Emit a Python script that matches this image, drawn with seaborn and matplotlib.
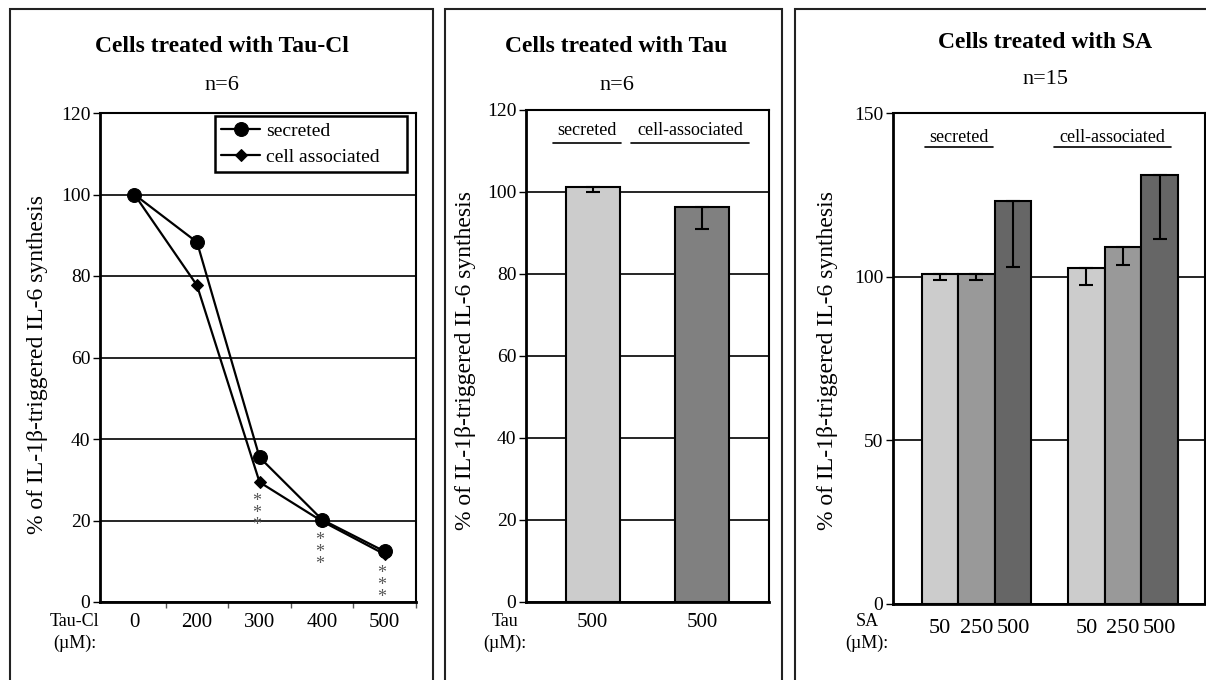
import numpy as np
import pandas as pd
import matplotlib
matplotlib.use('Agg')
import matplotlib.pyplot as plt
import matplotlib.patches as mpatches
import seaborn as sns

# panel 1: Tau-Cl dose response
taucl_doses = ['0', '200', '300', '400', '500']
taucl_secreted = [100.0, 88.3, 35.5, 20.2, 12.4]
taucl_cell = [100.0, 77.7, 29.4, 19.8, 11.7]
taucl_sig = ['', '', '***', '***', '***']

# panel 2: Tau
tau_groups = ['secreted', 'cell-associated']
tau_doses = ['500', '500']
tau_values = [101.1, 96.3]
tau_err_low = [1.1, 5.4]

# panel 3: SA
sa_groups = ['secreted', 'cell-associated']
sa_doses = ['50', '250', '500']
sa_secreted = [100.7, 100.7, 123.0]
sa_secreted_err = [1.6, 1.6, 20.0]
sa_cell = [102.8, 109.0, 131.1]
sa_cell_err = [5.4, 5.5, 19.6]

ylabel = '% of IL-1β-triggered IL-6 synthesis'

sns.set_theme(style='white')
plt.rcParams['font.family'] = ['Liberation Serif', 'DejaVu Serif']
plt.rcParams['axes.edgecolor'] = 'black'
plt.rcParams['text.color'] = 'black'
plt.rcParams['xtick.color'] = 'black'
plt.rcParams['ytick.color'] = 'black'

W, H = 1206, 680
fig = plt.figure(figsize=(W / 100, H / 100), dpi=100)


def box(left, top, right, bottom):
    return [left / W, 1 - bottom / H, (right - left) / W, (bottom - top) / H]


def ftext(x, y, s, **kw):
    fig.text(x / W, 1 - y / H, s, ha='center', va='center', **kw)


# panel frames
for l, r in [(10, 433), (445, 782), (795, 1212)]:
    fig.patches.append(mpatches.Rectangle((l / W, -0.02), (r - l) / W, 1 - 9 / H + 0.02,
                                          transform=fig.transFigure, fill=False,
                                          edgecolor='#222222', linewidth=1.5))


def style_axes(ax, yticks):
    ax.set_yticks(yticks)
    ax.yaxis.grid(True, color='black', linewidth=1.2)
    ax.xaxis.grid(False)
    ax.set_axisbelow(True)
    for s in ax.spines.values():
        s.set_visible(True)
        s.set_linewidth(1.5)
        s.set_color('black')
    ax.spines['left'].set_linewidth(2)
    ax.spines['bottom'].set_linewidth(2)
    ax.tick_params(axis='y', left=True, length=5, width=1, labelsize=14, pad=2)
    ax.tick_params(axis='x', labelsize=15)
    ax.set_xlabel('')
    ax.set_ylabel('')


# ---- panel 1
ax1 = fig.add_axes(box(100, 113, 416, 602))
pos = np.arange(len(taucl_doses))
sns.lineplot(x=pos, y=taucl_secreted, ax=ax1, color='black', linewidth=1.6,
             marker='o', markersize=10, markeredgecolor='black', label='secreted')
sns.lineplot(x=pos, y=taucl_cell, ax=ax1, color='black', linewidth=1.6,
             marker='D', markersize=6.5, markeredgecolor='black', label='cell associated')
ax1.set_xlim(-0.55, 4.5)
ax1.set_ylim(0, 120)
style_axes(ax1, [0, 20, 40, 60, 80, 100, 120])
ax1.set_xticks(pos)
ax1.set_xticklabels(taucl_doses)
ax1.set_xticks(pos + 0.5, minor=True)
ax1.tick_params(axis='x', which='major', length=0, pad=8)
ax1.tick_params(axis='x', which='minor', bottom=True, length=4, width=1, color='#555555')
for i, s in enumerate(taucl_sig):
    if s:
        ax1.annotate('\n'.join(s), xy=(pos[i], taucl_cell[i]), xytext=(-2, -8),
                     textcoords='offset points', ha='center', va='top',
                     fontsize=13, color='#555555', linespacing=0.6)
leg = ax1.legend(loc='upper left', bbox_to_anchor=(0.365, 0.993, 0.607, 0.0),
                 mode='expand', borderaxespad=0,
                 fontsize=14, frameon=True, fancybox=False, framealpha=1,
                 edgecolor='black', handlelength=2.0, handletextpad=0.3,
                 labelspacing=0.45, borderpad=0.3)
leg.get_frame().set_linewidth(1.8)
# stretch the frame back to the left so the entries sit indented like the original
frame = leg.get_frame()
ftext(222, 47, 'Cells treated with Tau-Cl', fontsize=17, fontweight='bold')
ftext(222, 85, 'n=6', fontsize=16)
ftext(38, 365, ylabel, fontsize=17, rotation=90)
ftext(75, 622, 'Tau-Cl', fontsize=13)
ftext(75, 643, '(µM):', fontsize=13)

# ---- panel 2
ax2 = fig.add_axes(box(526, 110, 769, 602))
tau_df = pd.DataFrame({'group': tau_groups, 'value': tau_values})
sns.barplot(data=tau_df, x='group', y='value', hue='group', palette=['#cccccc', '#808080'],
            edgecolor='black', linewidth=1.5, width=0.49, legend=False, ax=ax2)
tpos = np.arange(len(tau_groups))
ax2.errorbar(tpos, tau_values, yerr=[tau_err_low, [0] * len(tau_values)], fmt='none',
             ecolor='black', elinewidth=1.5, capsize=5, capthick=1.5)
ax2.set_xlim(-0.61, 1.61)
ax2.set_ylim(0, 120)
style_axes(ax2, [0, 20, 40, 60, 80, 100, 120])
ax2.set_xticks(tpos)
ax2.set_xticklabels(tau_doses)
ax2.tick_params(axis='x', length=0, pad=8)
for i, (g, off, half) in enumerate(zip(tau_groups, [-0.05, -0.11], [0.31, 0.54])):
    ax2.text(tpos[i] + off, 115, g, ha='center', va='center', fontsize=13)
    ax2.plot([tpos[i] + off - half, tpos[i] + off + half], [112, 112], color='black', lw=1.2)
ftext(616, 47, 'Cells treated with Tau', fontsize=17, fontweight='bold')
ftext(617, 86, 'n=6', fontsize=16)
ftext(466, 360, ylabel, fontsize=17, rotation=90)
ftext(505, 622, 'Tau', fontsize=13)
ftext(505, 643, '(µM):', fontsize=13)

# ---- panel 3
ax3 = fig.add_axes(box(893, 113, 1205, 604))
sa_df = pd.DataFrame({
    'group': np.repeat(sa_groups, len(sa_doses)),
    'dose': sa_doses * len(sa_groups),
    'value': sa_secreted + sa_cell,
    'err': sa_secreted_err + sa_cell_err,
})
sns.barplot(data=sa_df, x='group', y='value', hue='dose', hue_order=sa_doses,
            palette=['#cccccc', '#999999', '#666666'], edgecolor='black', linewidth=1.5,
            width=0.75, gap=0, legend=False, errorbar=None, ax=ax3)
for dose, cont in zip(sa_doses, ax3.containers):
    sub = sa_df[sa_df['dose'] == dose]
    for bar, err in zip(cont.patches, sub['err']):
        cx = bar.get_x() + bar.get_width() / 2
        ax3.errorbar(cx, bar.get_height(), yerr=[[err], [0]], fmt='none', ecolor='black',
                     elinewidth=1.5, capsize=5, capthick=1.5)
        ax3.text(cx, -0.05, dose, transform=ax3.get_xaxis_transform(), ha='center',
                 va='center', fontsize=16)
ax3.set_xlim(-0.57, 1.56)
ax3.set_ylim(0, 150)
style_axes(ax3, [0, 50, 100, 150])
ax3.set_xticks([])
spos = np.arange(len(sa_groups))
for i, (g, off, half) in enumerate(zip(sa_groups, [-0.12, -0.07], [0.23, 0.40])):
    ax3.text(spos[i] + off, 142.5, g, ha='center', va='center', fontsize=13)
    ax3.plot([spos[i] + off - half, spos[i] + off + half], [139.5, 139.5], color='black', lw=1.2)
ftext(1045, 43, 'Cells treated with SA', fontsize=17, fontweight='bold')
ftext(1045, 80, 'n=15', fontsize=16)
ftext(828, 360, ylabel, fontsize=17, rotation=90)
ftext(867, 622, 'SA', fontsize=13)
ftext(867, 643, '(µM):', fontsize=13)

fig.savefig('out.png', dpi=100)
